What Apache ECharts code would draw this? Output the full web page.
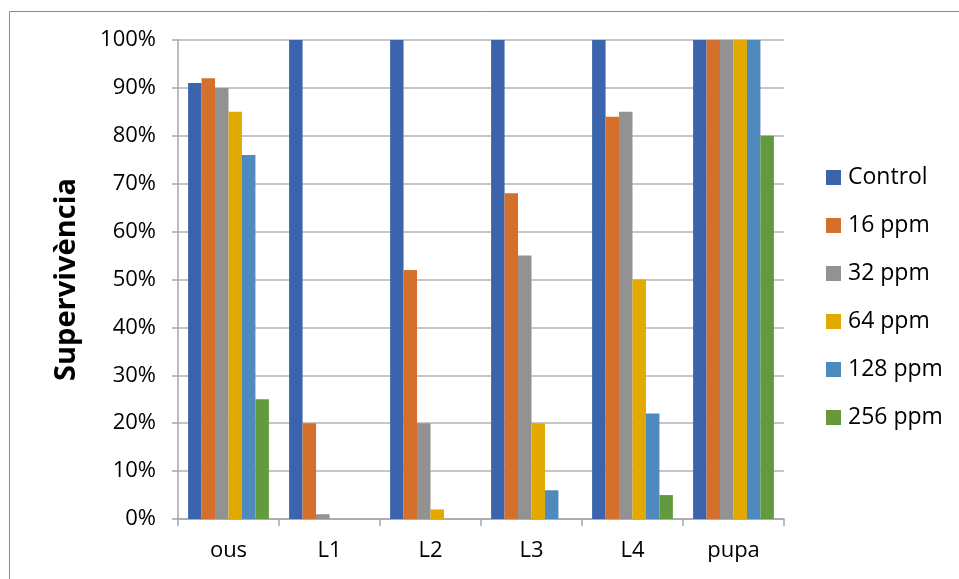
<!DOCTYPE html>
<html>
<head>
<meta charset="utf-8">
<script src="https://cdn.jsdelivr.net/npm/echarts@6/dist/echarts.min.js"></script>
<style>
  html, body { margin: 0; padding: 0; background: #fff; }
  #chart { width: 959px; height: 579px; }
</style>
</head>
<body>
<div id="chart"></div>
<script>
// Survival per developmental stage for each treatment dose
const stages = ['ous', 'L1', 'L2', 'L3', 'L4', 'pupa'];
const seriesNames = ['Control', '16 ppm', '32 ppm', '64 ppm', '128 ppm', '256 ppm'];
const control = [91, 100, 100, 100, 100, 100];
const ppm16   = [92, 20, 52, 68, 84, 100];
const ppm32   = [90, 1, 20, 55, 85, 100];
const ppm64   = [85, 0, 2, 20, 50, 100];
const ppm128  = [76, 0, 0, 6, 22, 100];
const ppm256  = [25, 0, 0, 0, 5, 80];
const yTicks = [0, 10, 20, 30, 40, 50, 60, 70, 80, 90, 100];

const values = [control, ppm16, ppm32, ppm64, ppm128, ppm256];
const colors = ['#3B64AD', '#D46F2C', '#929292', '#E2AA00', '#4F8ABF', '#639A3E'];
const font = '"Open Sans", "Noto Sans", sans-serif';

const chart = echarts.init(document.getElementById('chart'), null, { renderer: 'canvas' });

chart.setOption({
  animation: false,
  backgroundColor: '#ffffff',
  graphic: [{
    type: 'rect',
    shape: { x: 9.5, y: 11.5, width: 1000, height: 1000 },
    style: { fill: 'none', stroke: '#8c8c8c', lineWidth: 1 },
    silent: true
  }],
  grid: { left: 178, right: 175, top: 40, bottom: 60, containLabel: false },
  legend: {
    orient: 'vertical',
    left: 826,
    top: 166,
    padding: 0,
    itemWidth: 15,
    itemHeight: 15,
    itemGap: 25,
    icon: 'rect',
    textStyle: { fontFamily: font, fontSize: 23, lineHeight: 23, color: '#000', padding: [0, 0, 0, 2] },
    data: seriesNames
  },
  xAxis: {
    type: 'category',
    data: stages,
    boundaryGap: true,
    axisLine: { lineStyle: { color: '#a6a6a6', width: 1.5 } },
    axisTick: { show: true, length: 7, lineStyle: { color: '#a6a6a6', width: 1.5 } },
    axisLabel: { fontFamily: font, fontSize: 22, color: '#000', margin: 21 }
  },
  yAxis: {
    type: 'value',
    min: 0,
    max: 100,
    interval: 10,
    name: 'Supervivència',
    nameLocation: 'middle',
    nameGap: 97,
    nameRotate: 90,
    nameTextStyle: { fontFamily: font, fontSize: 29, fontWeight: 'bold', color: '#000' },
    axisLine: { show: true, lineStyle: { color: '#a6a6a6', width: 1.5 } },
    axisTick: { show: true, length: 6, lineStyle: { color: '#a6a6a6', width: 1.5 } },
    axisLabel: {
      fontFamily: font, fontSize: 22, color: '#000', margin: 22,
      formatter: v => (yTicks.indexOf(v) >= 0 ? v + '%' : '')
    },
    splitLine: { show: true, lineStyle: { color: '#b3b3b3', width: 1.5 } }
  },
  series: seriesNames.map((name, i) => ({
    name: name,
    type: 'bar',
    data: values[i],
    barGap: '0%',
    barCategoryGap: '20%',
    itemStyle: { color: colors[i], borderWidth: 0 }
  }))
});
</script>
</body>
</html>
